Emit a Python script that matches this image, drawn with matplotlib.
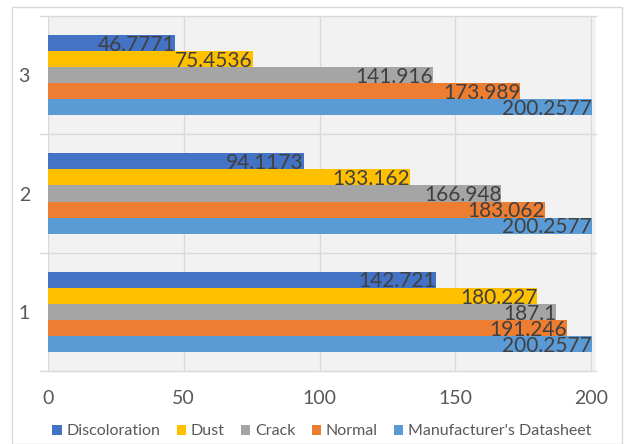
import matplotlib.pyplot as plt
import numpy as np
from matplotlib.patches import Rectangle

plt.rcParams['font.family'] = ['Lato', 'DejaVu Sans']

categories = ['1', '2', '3']
series_names = ['Discoloration', 'Dust', 'Crack', 'Normal', "Manufacturer's Datasheet"]
discoloration = [142.721, 94.1173, 46.7771]
dust = [180.227, 133.162, 75.4536]
crack = [187.1, 166.948, 141.916]
normal = [191.246, 183.062, 173.989]
datasheet = [200.2577, 200.2577, 200.2577]
value_labels = [
    ['142.721', '94.1173', '46.7771'],
    ['180.227', '133.162', '75.4536'],
    ['187.1', '166.948', '141.916'],
    ['191.246', '183.062', '173.989'],
    ['200.2577', '200.2577', '200.2577'],
]
colors = ['#4472C4', '#FFC000', '#A5A5A5', '#ED7D31', '#5B9BD5']

fig = plt.figure(figsize=(6.24, 4.44), dpi=100)
fig.patch.set_facecolor('white')
# outer chart border
fig.patches.append(Rectangle((12/624, 0), 610/624, 1 - 7/444, transform=fig.transFigure,
                             fill=False, edgecolor='#D9D9D9', linewidth=1))

ax = fig.add_axes([48/624, 1 - 371/444, 548/624, (371 - 16)/444])
ax.set_facecolor('#F2F2F2')

all_series = [discoloration, dust, crack, normal, datasheet]
y = np.arange(len(categories))
h = 0.136
for i, vals in enumerate(all_series):
    pos = y + (2 - i) * h
    ax.barh(pos, vals, height=h, color=colors[i], label=series_names[i], zorder=3)
    for p, v, lab in zip(pos, vals, value_labels[i]):
        ax.text(min(v, 200.2), p - 0.015, lab, ha='right', va='center', fontsize=15,
                color='#404040', zorder=4)

ax.set_xlim(0, 201.8)
ax.set_ylim(-0.5, 2.5)
ax.set_xticks([0, 50, 100, 150, 200])
ax.set_yticks(y)
ax.set_yticklabels(categories)
ax.grid(axis='x', color='#D9D9D9', linewidth=1, zorder=0)
ax.set_axisbelow(True)
for yy in [-0.5, 0.5, 1.5, 2.5]:
    ax.axhline(yy, xmin=-0.015, color='#D9D9D9', linewidth=1, clip_on=False, zorder=1)
for s in ax.spines.values():
    s.set_visible(False)
ax.tick_params(length=0, labelsize=14, labelcolor='#595959')
ax.tick_params(axis='x', pad=14)
ax.tick_params(axis='y', pad=13)

ax.legend(loc='center', bbox_to_anchor=(0.5, -0.17), ncol=5, frameon=False,
          fontsize=11.5, labelcolor='#595959', handlelength=0.6, handleheight=0.6,
          handletextpad=0.3, columnspacing=1.0)

plt.savefig('out.png', dpi=100)
